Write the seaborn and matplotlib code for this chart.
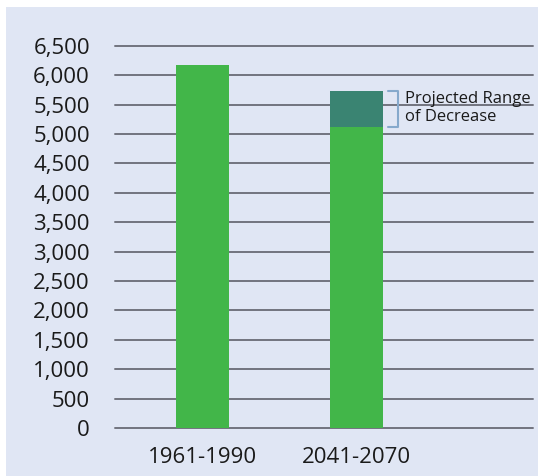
import matplotlib
matplotlib.use("Agg")
import matplotlib.pyplot as plt
import seaborn as sns
import pandas as pd
from matplotlib.patches import Rectangle

periods = ["1961-1990", "2041-2070"]
low_values = [6180, 5120]
high_values = [6180, 5730]
yticks = list(range(0, 6501, 500))
ytick_labels = [f"{v:,}" for v in yticks]
annotation = "Projected Range\nof Decrease"

BG = "#e0e6f4"
GREEN = "#42b649"
TEAL = "#3a8472"
GRID = "#72737e"
BRACKET = "#86a9cc"

sns.set_theme(style="white")
plt.rcParams["font.family"] = ["Open Sans", "DejaVu Sans"]

fig = plt.figure(figsize=(5.39, 4.76), dpi=100, facecolor="white")
fig.patches.append(Rectangle((6 / 539, 0), 532 / 539, 469 / 476,
                             transform=fig.transFigure, facecolor=BG,
                             edgecolor="none", zorder=-10))
ax = fig.add_axes([115 / 539, 48 / 476, 418 / 539, 382.3 / 476])
ax.set_facecolor("none")

df_hi = pd.DataFrame({"period": periods, "value": high_values})
df_lo = pd.DataFrame({"period": periods, "value": low_values})
sns.barplot(data=df_hi, x="period", y="value", hue="period",
            palette=[GREEN, TEAL], width=0.344, legend=False, ax=ax,
            saturation=1, linewidth=0)
sns.barplot(data=df_lo, x="period", y="value", color=GREEN,
            width=0.344, ax=ax, saturation=1, linewidth=0)
for i, p in enumerate(ax.patches):
    p.set_zorder(3 + i)
    p.set_linewidth(0)

for v in yticks:
    ax.axhline(v, color=GRID, lw=1.4, zorder=1, clip_on=False)

ax.set_xlim(-0.568, 2.146)
ax.set_ylim(0, 6500)
ax.set_yticks(yticks)
ax.set_yticklabels(ytick_labels)
ax.tick_params(axis="y", length=0, pad=18, labelsize=16, labelcolor="#1a1a1a")
ax.tick_params(axis="x", length=0, pad=14, labelsize=16, labelcolor="#1a1a1a")
ax.set_xlabel("")
ax.set_ylabel("")
for s in ax.spines.values():
    s.set_visible(False)

# bracket for projected range
x0 = 1 + 0.205
x1 = 1 + 0.27
ylo, yhi = low_values[1], high_values[1]
ax.plot([x0, x1, x1, x0], [yhi, yhi, ylo, ylo], color=BRACKET, lw=1.5,
        zorder=10, clip_on=False)
ax.text(1 + 0.315, (ylo + yhi) / 2 + 20, annotation, fontsize=12,
        color="#1a1a1a", va="center", ha="left", linespacing=1.2,
        zorder=10)

fig.savefig("out.png", dpi=100, facecolor="white")
